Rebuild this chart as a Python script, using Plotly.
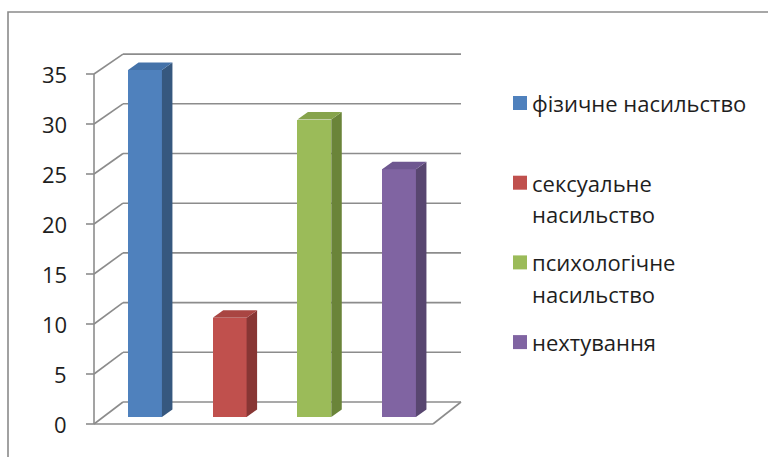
import plotly.graph_objects as go

# ---------------- data ----------------
categories = ["фізичне насильство", "сексуальне насильство",
              "психологічне насильство", "нехтування"]
legend_lines = [["фізичне насильство"], ["сексуальне", "насильство"],
                ["психологічне", "насильство"], ["нехтування"]]
values = [35, 10, 30, 25]
y_ticks = [0, 5, 10, 15, 20, 25, 30, 35]
tick_labels = ["0", "5", "10", "15", "20", "25", "30", "35"]

front_colors = ["#4F81BD", "#C0504D", "#9BBB59", "#8064A2"]
top_colors = ["#4472A9", "#A94542", "#86A34B", "#6E5790"]
side_colors = ["#36587F", "#883634", "#6A8439", "#584670"]

# ---------------- geometry (pixels) ----------------
W, H = 768, 457
ML, MR, MT, MB = 80, 298, 20, 5
PW, PH = W - ML - MR, H - MT - MB
CAT_PX = 84.67          # pixels per category
CAT0_PX = 145.0         # centre of first bar
Y0_PX = 417.0           # bar plane zero
Y_SCALE = 9.914         # px per unit on bar plane
BAR_W = 0.40
DEPTH_DX, DEPTH_DY = 10.5, 7.5   # bar depth in px

x_range = [(ML - CAT0_PX) / CAT_PX, (ML + PW - CAT0_PX) / CAT_PX]
y_range = [-(H - MB - Y0_PX) / Y_SCALE, (Y0_PX - MT) / Y_SCALE]

def px_x(px):
    return (px - ML) / PW

def px_y(py):
    return (H - MB - py) / PH

# wall planes
FRONT_X0, FRONT_X1, FRONT_Y0, FRONT_S = 94.0, 433.0, 424.0, 10.0
BACK_X0, BACK_X1, BACK_Y0, BACK_S = 123.0, 461.0, 402.0, 9.94
GRID_COL = "#8C8C8C"
GRID_W = 1.6

def fy(v):
    return FRONT_Y0 - FRONT_S * v

def by(v):
    return BACK_Y0 - BACK_S * v

shapes = []

def pline(x0, y0, x1, y1, color=GRID_COL, width=GRID_W):
    shapes.append(dict(type="line", xref="paper", yref="paper",
                       x0=px_x(x0), y0=px_y(y0), x1=px_x(x1), y1=px_y(y1),
                       line=dict(color=color, width=width), layer="below"))

# outer chart border
shapes.append(dict(type="rect", xref="paper", yref="paper",
                   x0=px_x(8), y0=px_y(12), x1=px_x(900), y1=px_y(600),
                   line=dict(color="#8A8A8A", width=1.6), fillcolor="rgba(0,0,0,0)",
                   layer="below"))

# back wall gridlines + left wall diagonals + front ticks
for v in y_ticks:
    pline(BACK_X0, by(v), BACK_X1, by(v))
    pline(FRONT_X0, fy(v), BACK_X0, by(v))
    pline(FRONT_X0 - 8, fy(v), FRONT_X0, fy(v))
# front vertical axis
pline(FRONT_X0, fy(max(y_ticks)), FRONT_X0, fy(0))
# floor front edge and right edge
pline(FRONT_X0, fy(0), FRONT_X1, fy(0))
pline(FRONT_X1, fy(0), BACK_X1, by(0))

# 3D faces of bars (data coordinates)
dxu = DEPTH_DX / CAT_PX
dyu = DEPTH_DY / Y_SCALE
for i, v in enumerate(values):
    xl, xr = i - BAR_W / 2, i + BAR_W / 2
    shapes.append(dict(type="path", xref="x", yref="y", layer="above",
                       path=f"M{xr},0 L{xr+dxu},{dyu} L{xr+dxu},{v+dyu} L{xr},{v} Z",
                       fillcolor=side_colors[i], line=dict(width=0)))
    shapes.append(dict(type="path", xref="x", yref="y", layer="above",
                       path=f"M{xl},{v} L{xr},{v} L{xr+dxu},{v+dyu} L{xl+dxu},{v+dyu} Z",
                       fillcolor=top_colors[i], line=dict(width=0)))

fig = go.Figure()
fig.add_trace(go.Bar(x=list(range(len(values))), y=values, width=BAR_W,
                     marker=dict(color=front_colors, line=dict(width=0)),
                     hovertext=categories, showlegend=False))

FONT = "Open Sans"
TXT_COL = "#1E1E1E"
FS = 22
annotations = []
for v, lab in zip(y_ticks, tick_labels):
    annotations.append(dict(xref="paper", yref="paper", x=px_x(69), y=px_y(fy(v)),
                            text=lab, showarrow=False, xanchor="right", yanchor="middle",
                            font=dict(family=FONT, size=FS, color=TXT_COL)))

# legend (drawn manually to match line spacing)
LEG_SQ_X0, LEG_SQ = 513, 14
LEG_TXT_X = 530
LEG_Y0, LEG_STEP, LINE_STEP = 103, 79.7, 31.5
for i, lines in enumerate(legend_lines):
    yc = LEG_Y0 + i * LEG_STEP
    shapes.append(dict(type="rect", xref="paper", yref="paper",
                       x0=px_x(LEG_SQ_X0), x1=px_x(LEG_SQ_X0 + LEG_SQ),
                       y0=px_y(yc - LEG_SQ / 2), y1=px_y(yc + LEG_SQ / 2),
                       fillcolor=front_colors[i], line=dict(width=0)))
    for j, t in enumerate(lines):
        annotations.append(dict(xref="paper", yref="paper", x=px_x(LEG_TXT_X),
                                y=px_y(yc + j * LINE_STEP), text=t, showarrow=False,
                                xanchor="left", yanchor="middle",
                                font=dict(family=FONT, size=FS, color=TXT_COL)))

fig.update_layout(
    width=W, height=H, autosize=False,
    margin=dict(l=ML, r=MR, t=MT, b=MB, pad=0),
    paper_bgcolor="white", plot_bgcolor="rgba(0,0,0,0)",
    xaxis=dict(range=x_range, visible=False, fixedrange=True),
    yaxis=dict(range=y_range, visible=False, fixedrange=True),
    shapes=shapes, annotations=annotations, showlegend=False,
    bargap=0, hovermode=False,
)

fig.write_html("out.html",
               config={"displayModeBar": False, "staticPlot": True},
               post_script="document.body.style.margin='0px';"
                           "document.body.style.overflow='hidden';")
